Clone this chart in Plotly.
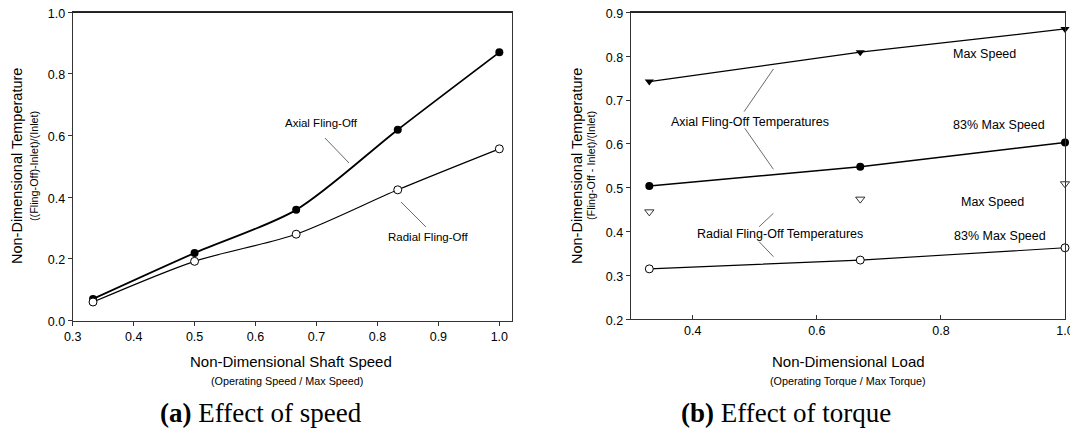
import plotly.graph_objects as go

# ---------------- Data ----------------
# Panel (a): effect of speed
speed = [1/3, 1/2, 2/3, 5/6, 1.0]
axial_speed = [0.070, 0.219, 0.359, 0.619, 0.870]
radial_speed = [0.060, 0.192, 0.280, 0.424, 0.557]

# Panel (b): effect of torque
load = [0.33, 0.67, 1.0]
axial_max = [0.742, 0.809, 0.862]
axial_83 = [0.504, 0.548, 0.603]
radial_max = [0.445, 0.474, 0.509]
radial_83 = [0.315, 0.335, 0.363]

xticks_a = [0.3, 0.4, 0.5, 0.6, 0.7, 0.8, 0.9, 1.0]
yticks_a = [0.0, 0.2, 0.4, 0.6, 0.8, 1.0]
xticks_b = [0.4, 0.6, 0.8, 1.0]
yticks_b = [0.2, 0.3, 0.4, 0.5, 0.6, 0.7, 0.8, 0.9]

SANS = "Liberation Sans, Arial, sans-serif"
SERIF = "Liberation Serif, Times New Roman, serif"

# page offset (browser body margin) and figure size
OX, OY = 8, 8
W, H = 1078 - OX, 430 - OY

def px(x):
    return (x - OX) / W

def py(y):
    return 1 - (y - OY) / H

fig = go.Figure()

# Panel (a)
fig.add_trace(go.Scatter(x=speed, y=axial_speed, mode="lines+markers",
                         line=dict(color="black", width=1.8, shape="spline", smoothing=0.8),
                         marker=dict(symbol="circle", size=8, color="black"),
                         cliponaxis=False, xaxis="x", yaxis="y", showlegend=False))
fig.add_trace(go.Scatter(x=speed, y=radial_speed, mode="lines+markers",
                         line=dict(color="black", width=1.2, shape="spline", smoothing=0.8),
                         marker=dict(symbol="circle", size=8, color="white",
                                     line=dict(color="black", width=1)),
                         cliponaxis=False, xaxis="x", yaxis="y", showlegend=False))

# Panel (b)
fig.add_trace(go.Scatter(x=load, y=axial_max, mode="lines+markers",
                         line=dict(color="black", width=1.2),
                         marker=dict(symbol="triangle-down", size=8, color="black"),
                         cliponaxis=False, xaxis="x2", yaxis="y2", showlegend=False))
fig.add_trace(go.Scatter(x=load, y=axial_83, mode="lines+markers",
                         line=dict(color="black", width=1.5),
                         marker=dict(symbol="circle", size=8, color="black"),
                         cliponaxis=False, xaxis="x2", yaxis="y2", showlegend=False))
fig.add_trace(go.Scatter(x=load, y=radial_max, mode="markers",
                         marker=dict(symbol="triangle-down", size=8, color="white",
                                     line=dict(color="black", width=0.8)),
                         cliponaxis=False, xaxis="x2", yaxis="y2", showlegend=False))
fig.add_trace(go.Scatter(x=load, y=radial_83, mode="lines+markers",
                         line=dict(color="black", width=1.1),
                         marker=dict(symbol="circle", size=8, color="white",
                                     line=dict(color="black", width=1)),
                         cliponaxis=False, xaxis="x2", yaxis="y2", showlegend=False))

axis_common = dict(showline=True, linecolor="#333", linewidth=1, mirror=True,
                   showgrid=False, zeroline=False, ticks="outside", ticklen=4,
                   tickcolor="#333", automargin=False, ticklabeloverflow="allow",
                   tickfont=dict(family=SANS, size=12.5, color="black"))

LEFT_A, RIGHT_A, TOP_A, BOT_A = 72.7, 511.7, 12.3, 320.5
LEFT_B, RIGHT_B, TOP_B, BOT_B = 630.7, 1065, 12.3, 319.3

fig.update_layout(
    template="none",
    width=W, height=H,
    margin=dict(l=0, r=0, t=0, b=0, pad=0),
    paper_bgcolor="white", plot_bgcolor="white",
    xaxis=dict(domain=[px(LEFT_A), px(RIGHT_A)], range=[0.3, 1.0203], tickvals=xticks_a,
               tickformat=".1f", anchor="y", **axis_common),
    yaxis=dict(domain=[py(BOT_A), py(TOP_A)], range=[0, 1.0], tickvals=yticks_a,
               tickformat=".1f", anchor="x", ticklabelshift=1, **axis_common),
    xaxis2=dict(domain=[px(LEFT_B), px(RIGHT_B)], range=[0.3, 1.0], tickvals=xticks_b,
                tickformat=".1f", anchor="y2", **{**axis_common, "ticks": "inside"}),
    yaxis2=dict(domain=[py(BOT_B), py(TOP_B)], range=[0.2, 0.9], tickvals=yticks_b,
                tickformat=".1f", anchor="x2", ticklabelshift=1, **axis_common),
)

ann = []
def txt(x, y, text, size, xref="paper", yref="paper", angle=0, family=SANS):
    ann.append(dict(x=x, y=y, xref=xref, yref=yref, text=text, showarrow=False,
                    textangle=angle, font=dict(family=family, size=size, color="black"),
                    xanchor="center", yanchor="middle"))

# Axis titles panel (a)
txt(px(17), py(166), "Non-Dimensional Temperature", 14.5, angle=-90)
txt(px(34), py(166), "((Fling-Off)-Inlet)/(Inlet)", 10.8, angle=-90)
txt(px(291), py(361), "Non-Dimensional Shaft Speed", 15)
txt(px(287), py(381), "(Operating Speed / Max Speed)", 10.8)
txt(px(261), py(413), "<b>(a)</b> Effect of speed", 27, family=SERIF)

# Axis titles panel (b)
txt(px(577), py(166), "Non-Dimensional Temperature", 14.5, angle=-90)
txt(px(591), py(166), "(Fling-Off - Inlet)/(Inlet)", 10.8, angle=-90)
txt(px(848), py(361), "Non-Dimensional Load", 15)
txt(px(848), py(381), "(Operating Torque / Max Torque)", 10.8)
txt(px(786), py(413), "<b>(b)</b> Effect of torque", 27, family=SERIF)

# In-plot labels panel (a)
txt(0.7075, 0.641, "Axial Fling-Off", 11.5, "x", "y")
txt(0.883, 0.271, "Radial Fling-Off", 11.5, "x", "y")

# In-plot labels panel (b)
txt(0.4924, 0.650, "Axial Fling-Off Temperatures", 12.5, "x2", "y2")
txt(0.540, 0.3945, "Radial Fling-Off Temperatures", 12.5, "x2", "y2")
txt(0.870, 0.805, "Max Speed", 12.5, "x2", "y2")
txt(0.894, 0.643, "83% Max Speed", 12.5, "x2", "y2")
txt(0.883, 0.4675, "Max Speed", 12.5, "x2", "y2")
txt(0.8957, 0.390, "83% Max Speed", 12.5, "x2", "y2")

fig.update_layout(annotations=ann)

# Top frame edges as thin filled bands in paper coordinates
for l, r, t in ((LEFT_A, RIGHT_A, TOP_A), (LEFT_B, RIGHT_B, TOP_B)):
    fig.add_shape(type="rect", x0=px(l - 0.5), x1=px(r + 0.5),
                  y0=py(t + 0.7), y1=py(t - 0.7),
                  xref="paper", yref="paper", line=dict(width=0),
                  fillcolor="#222", layer="above")

# Leader lines
def leader(x0, y0, x1, y1, xref, yref):
    fig.add_shape(type="line", x0=x0, y0=y0, x1=x1, y1=y1, xref=xref, yref=yref,
                  line=dict(color="#444", width=0.8))

leader(0.714, 0.592, 0.7534, 0.511, "x", "y")
leader(0.8387, 0.3845, 0.8797, 0.3034, "x", "y")
leader(0.4827, 0.6734, 0.530, 0.7707, "x2", "y2")
leader(0.4839, 0.6355, 0.530, 0.542, "x2", "y2")
leader(0.507, 0.411, 0.530, 0.4417, "x2", "y2")
leader(0.507, 0.377, 0.530, 0.3428, "x2", "y2")

fig.write_html("out.html")
